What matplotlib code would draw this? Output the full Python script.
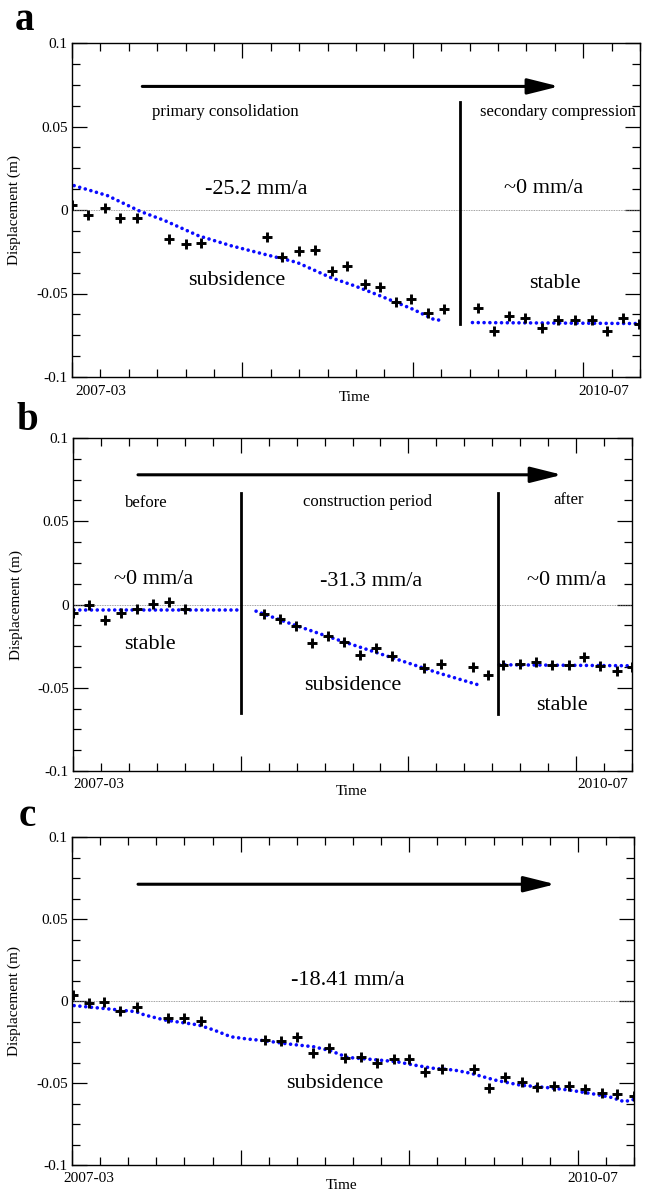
import matplotlib.pyplot as plt
from matplotlib.ticker import MultipleLocator

plt.rcParams['font.family'] = ['Liberation Serif', 'DejaVu Serif']

# time axis: months since 2007-03 (0 .. 40 = 2010-07)
# panel a
a_t = [0, 1.1, 2.3, 3.4, 4.6, 6.8, 8.0, 9.1, 13.7, 14.8, 16.0, 17.1, 18.3, 19.4, 20.6,
       21.7, 22.8, 23.9, 25.1, 26.2, 28.6, 29.7, 30.8, 31.9, 33.1, 34.2, 35.4, 36.6,
       37.7, 38.8, 39.9]
a_d = [0.0032, -0.003, 0.0012, -0.005, -0.005, -0.0174, -0.0204, -0.020, -0.016, -0.0284,
       -0.0248, -0.024, -0.0368, -0.0334, -0.0444, -0.0464, -0.055, -0.0534, -0.0618,
       -0.0594, -0.0588, -0.0724, -0.0634, -0.0644, -0.0704, -0.0658, -0.0658, -0.0658,
       -0.0724, -0.0648, -0.0684]
a_fit1_t = [0.15, 2.5, 4.8, 6.55, 8.9, 11.2, 13.5, 15.85, 18.2, 19.9, 21.7, 24.0, 25.45, 26.2]
a_fit1_d = [0.0146, 0.0086, -0.0008, -0.0064, -0.0154, -0.0214, -0.0264, -0.0314, -0.0404,
            -0.0454, -0.0514, -0.0594, -0.0654, -0.0664]
a_fit2_t = [28.2, 40.0]
a_fit2_d = [-0.0674, -0.068]

# panel b
b_t = [0, 1.15, 2.3, 3.4, 4.55, 5.7, 6.85, 8.0, 13.7, 14.8, 15.95, 17.1, 18.25, 19.4, 20.55,
       21.7, 22.85, 25.15, 26.3, 28.6, 29.7, 30.8, 32.0, 33.1, 34.3, 35.5, 36.6, 37.7,
       38.9, 40.0]
b_d = [-0.005, -0.0006, -0.0095, -0.0052, -0.0026, 0.0006, 0.0014, -0.003, -0.006, -0.009,
       -0.0127, -0.0231, -0.0191, -0.0227, -0.0306, -0.0262, -0.0312, -0.0382, -0.0356,
       -0.0376, -0.0425, -0.0362, -0.0356, -0.0348, -0.0362, -0.0362, -0.0318, -0.0368,
       -0.0402, -0.0376]
b_fit1_t = [0.06, 11.9]
b_fit1_d = [-0.0034, -0.0034]
b_fit2_t = [13.1, 15.4, 18.4, 21.4, 24.3, 26.1, 28.9]
b_fit2_d = [-0.004, -0.011, -0.0197, -0.028, -0.036, -0.041, -0.048]
b_fit3_t = [30.5, 40.0]
b_fit3_d = [-0.0362, -0.0368]

# panel c
c_t = [0.06, 1.2, 2.3, 3.45, 4.6, 6.85, 8.0, 9.15, 13.75, 14.9, 16.0, 17.15, 18.3, 19.4,
       20.6, 21.7, 22.9, 24.0, 25.1, 26.3, 28.6, 29.7, 30.8, 32.0, 33.1, 34.3, 35.4, 36.5,
       37.7, 38.8, 40.0]
c_d = [0.0037, -0.001, -0.0008, -0.0059, -0.0039, -0.0102, -0.0106, -0.012, -0.0238, -0.0246,
       -0.0218, -0.0315, -0.0289, -0.0346, -0.034, -0.0376, -0.0356, -0.0356, -0.0431,
       -0.0417, -0.0413, -0.0533, -0.0466, -0.0492, -0.0527, -0.0517, -0.0517, -0.0539,
       -0.056, -0.0568, -0.058]
c_fit_t = [0.15, 2.2, 4.56, 5.15, 6.6, 9.0, 10.1, 11.3, 12.5, 13.7, 15.4, 17.2, 18.4, 19.6,
           21.3, 23.1, 24.3, 25.7, 27.2, 28.4, 30.1, 31.9, 33.7, 35.4, 37.2, 38.4, 39.3, 40.0]
c_fit_d = [-0.0028, -0.0045, -0.0065, -0.0085, -0.0116, -0.0146, -0.0177, -0.0218, -0.0232,
           -0.0242, -0.0262, -0.0279, -0.0303, -0.0344, -0.0356, -0.037, -0.039, -0.041,
           -0.0421, -0.0441, -0.0482, -0.0513, -0.0527, -0.0543, -0.0568, -0.0588, -0.0614,
           -0.060]

yticks = [-0.1, -0.05, 0, 0.05, 0.1]
ytick_labels = ['-0.1', '-0.05', '0', '0.05', '0.1']

fig = plt.figure(figsize=(6.45, 12), dpi=100)
ax_a = fig.add_axes([72/645, 1-377/1200, 568/645, 334/1200])
ax_b = fig.add_axes([73/645, 1-771/1200, 559/645, 333/1200])
ax_c = fig.add_axes([72/645, 1-1165/1200, 562/645, 328/1200])

blue = '#0a0aff'
big = 16
small = 12


def setup(ax, lab_x, time_x):
    ax.set_xlim(0, 40)
    ax.set_ylim(-0.1, 0.1)
    ax.xaxis.set_major_locator(MultipleLocator(12))
    ax.xaxis.set_minor_locator(MultipleLocator(2))
    ax.set_xticklabels([])
    ax.set_yticks(yticks)
    ax.set_yticklabels(ytick_labels, fontsize=11)
    ax.yaxis.set_minor_locator(MultipleLocator(0.0125))
    ax.tick_params(which='both', direction='in', top=True, right=True, width=0.9, pad=3)
    ax.tick_params(which='major', length=11)
    ax.tick_params(which='minor', length=6)
    for s in ax.spines.values():
        s.set_linewidth(1.0)
    ax.axhline(0, color='gray', lw=0.6, ls=(0, (1, 1)))
    ax.set_ylabel('Displacement (m)', fontsize=11)
    ax.yaxis.set_label_coords(-0.09, 0.5)
    ax.text(lab_x[0], -0.042, '2007-03', transform=ax.transAxes, ha='center', va='center', fontsize=11)
    ax.text(lab_x[1], -0.042, '2010-07', transform=ax.transAxes, ha='center', va='center', fontsize=11)
    ax.text(time_x, -0.062, 'Time', transform=ax.transAxes, ha='center', va='center', fontsize=11)


def arrow(ax, x0, x1, y):
    ax.annotate('', xy=(x1, y), xytext=(x0, y),
                arrowprops=dict(arrowstyle='-|>,head_length=1.6,head_width=0.4',
                                mutation_scale=12, lw=2.2, color='black',
                                shrinkA=0, shrinkB=0))


def pts(ax, t, d):
    ax.plot(t, d, ls='', marker='+', color='black', ms=7.5, mew=2.1)


def fit(ax, t, d):
    ax.plot(t, d, color=blue, lw=2.6, ls=(0, (0.01, 1.6)), dash_capstyle='round')


# panel a
setup(ax_a, (0.05, 0.936), 0.497)
fit(ax_a, a_fit1_t, a_fit1_d)
fit(ax_a, a_fit2_t, a_fit2_d)
pts(ax_a, a_t, a_d)
ax_a.plot([27.3, 27.3], [0.0646, -0.0684], color='black', lw=2)
arrow(ax_a, 4.95, 34.3, 0.074)
ax_a.text(10.8, 0.0586, 'primary consolidation', ha='center', va='center', fontsize=small)
ax_a.text(34.2, 0.0586, 'secondary compression', ha='center', va='center', fontsize=small)
ax_a.text(13.0, 0.012, '-25.2 mm/a', ha='center', va='center', fontsize=big)
ax_a.text(33.2, 0.0126, '~0 mm/a', ha='center', va='center', fontsize=big)
ax_a.text(11.6, -0.0424, 'subsidence', ha='center', va='center', fontsize=big)
ax_a.text(34.0, -0.044, 'stable', ha='center', va='center', fontsize=big)

# panel b
setup(ax_b, (0.046, 0.948), 0.499)
fit(ax_b, b_fit1_t, b_fit1_d)
fit(ax_b, b_fit2_t, b_fit2_d)
fit(ax_b, b_fit3_t, b_fit3_d)
pts(ax_b, b_t, b_d)
ax_b.plot([12.0, 12.0], [0.0668, -0.065], color='black', lw=2)
ax_b.plot([30.4, 30.4], [0.0668, -0.0655], color='black', lw=2)
arrow(ax_b, 4.65, 35.0, 0.0779)
ax_b.text(5.24, 0.061, 'before', ha='center', va='center', fontsize=small)
ax_b.text(21.07, 0.0618, 'construction period', ha='center', va='center', fontsize=small)
ax_b.text(35.5, 0.063, 'after', ha='center', va='center', fontsize=small)
ax_b.text(5.74, 0.0151, '~0 mm/a', ha='center', va='center', fontsize=big)
ax_b.text(21.3, 0.0141, '-31.3 mm/a', ha='center', va='center', fontsize=big)
ax_b.text(35.3, 0.0147, '~0 mm/a', ha='center', va='center', fontsize=big)
ax_b.text(5.53, -0.0241, 'stable', ha='center', va='center', fontsize=big)
ax_b.text(20.0, -0.0489, 'subsidence', ha='center', va='center', fontsize=big)
ax_b.text(35.0, -0.0604, 'stable', ha='center', va='center', fontsize=big)

# panel c
setup(ax_c, (0.030, 0.926), 0.48)
fit(ax_c, c_fit_t, c_fit_d)
pts(ax_c, c_t, c_d)
arrow(ax_c, 4.7, 34.4, 0.0712)
ax_c.text(19.6, 0.0122, '-18.41 mm/a', ha='center', va='center', fontsize=big)
ax_c.text(18.7, -0.0503, 'subsidence', ha='center', va='center', fontsize=big)

# panel letters
fig.text(25/645, 1-20/1200, 'a', ha='center', va='center', fontsize=28, fontweight='bold')
fig.text(27/645, 1-420/1200, 'b', ha='center', va='center', fontsize=28, fontweight='bold')
fig.text(27/645, 1-816/1200, 'c', ha='center', va='center', fontsize=28, fontweight='bold')

fig.savefig('out.png', dpi=100)
